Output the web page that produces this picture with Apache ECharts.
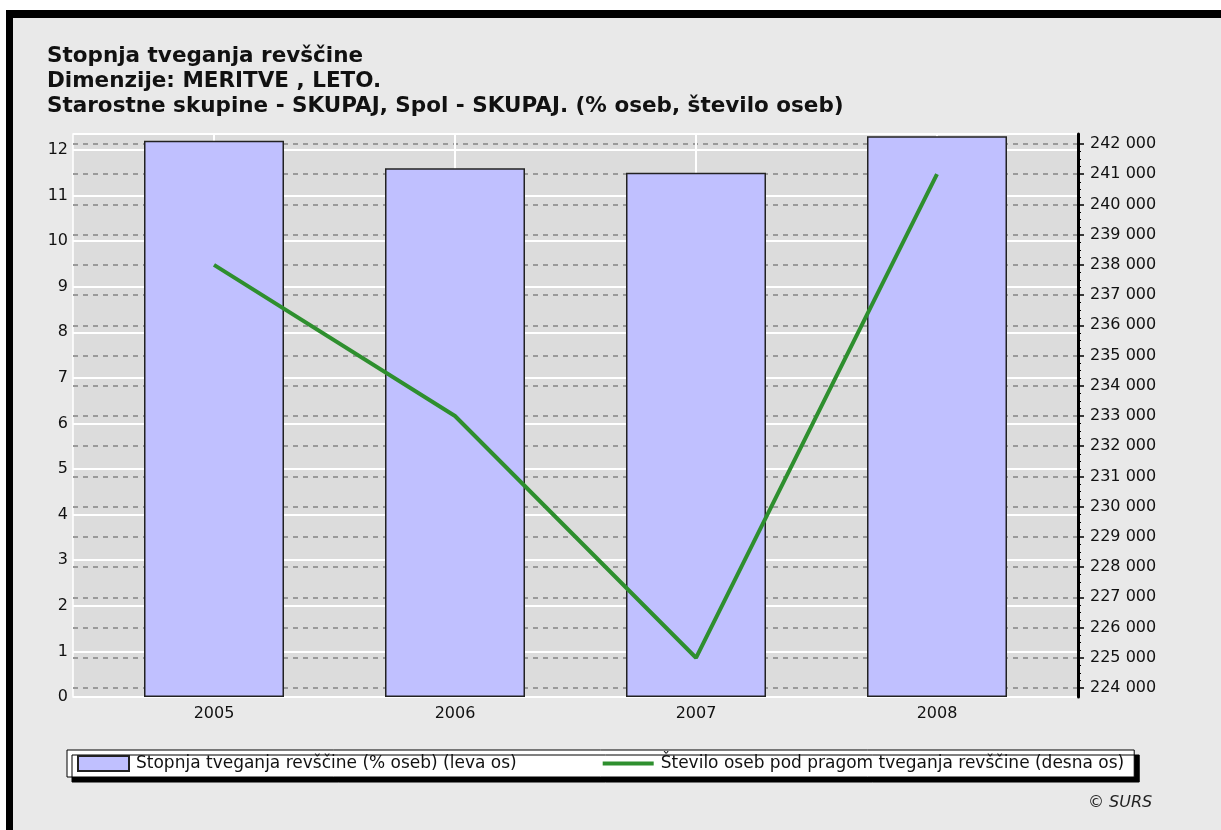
<!DOCTYPE html>
<html>
<head>
<meta charset="utf-8">
<script src="https://cdn.jsdelivr.net/npm/echarts@6/dist/echarts.min.js"></script>
<style>
  html, body { margin: 0; padding: 0; background: #fff; }
  #frame {
    position: absolute; left: 6px; top: 10px; width: 1215px; height: 820px;
    box-sizing: border-box; background: #e9e9e9;
    border-left: 7px solid #000; border-top: 8px solid #000;
  }
  #chart { position: absolute; left: 0; top: 0; width: 1221px; height: 830px; }
</style>
</head>
<body>
<div id="frame"></div>
<div id="chart"></div>
<script>
// data
var years = ["2005", "2006", "2007", "2008"];
var riskRate = [12.2, 11.6, 11.5, 12.3];              // % oseb (leva os)
var personsBelow = [238000, 233000, 225000, 241000];  // število oseb (desna os)

var leftMin = 0, leftMax = 12.35;
var rightTickMin = 224000, rightTickMax = 242000, rightStep = 1000;
var rightMin = 223702, rightMax = 242331;

var font = "DejaVu Sans";

function fmtThousands(v) {
    return String(v).replace(/\B(?=(\d{3})+(?!\d))/g, " ");
}

var chart = echarts.init(document.getElementById("chart"));
chart.setOption({
    animation: false,
    textStyle: { fontFamily: font },
    title: {
        text: "Stopnja tveganja revščine\nDimenzije: MERITVE , LETO.\nStarostne skupine - SKUPAJ, Spol - SKUPAJ. (% oseb, število oseb)",
        left: 47,
        top: 44,
        padding: 0,
        textStyle: {
            fontFamily: font,
            fontSize: 21.5,
            fontWeight: "bold",
            color: "#111",
            lineHeight: 25
        }
    },
    grid: [
        // plot background + left axis
        { left: 73, right: 143, top: 134, bottom: 133, show: true,
          backgroundColor: "#dcdcdc", borderColor: "#fff", borderWidth: 1.5 },
        // right axis ticks (224 000 .. 242 000)
        { left: 73, right: 143, top: 144, bottom: 142 },
        // series
        { left: 214, right: 284, top: 134, bottom: 133 }
    ],
    xAxis: [
        { gridIndex: 0, type: "value", show: false },
        { gridIndex: 1, type: "value", show: false },
        {
            gridIndex: 2,
            type: "category",
            data: years,
            boundaryGap: false,
            axisLine: { show: false },
            axisTick: { show: false },
            axisLabel: { margin: 9, fontSize: 16, color: "#111", fontFamily: font },
            splitLine: { show: true, lineStyle: { color: "#fff", width: 2 } }
        }
    ],
    yAxis: [
        {
            gridIndex: 0,
            type: "value",
            min: leftMin,
            max: leftMax,
            interval: 1,
            axisLine: { show: false, onZero: false },
            axisTick: { show: false },
            axisLabel: { margin: 5, fontSize: 16, color: "#111", showMaxLabel: false, fontFamily: font },
            splitLine: { lineStyle: { color: "#fff", width: 2 } }
        },
        {
            gridIndex: 0,
            type: "value",
            position: "right",
            axisLine: { show: true, onZero: false, lineStyle: { color: "#000", width: 3 } },
            axisTick: { show: false },
            axisLabel: { show: false },
            splitLine: { show: false }
        },
        {
            gridIndex: 1,
            type: "value",
            position: "right",
            min: rightTickMin,
            max: rightTickMax,
            interval: rightStep,
            axisLine: { show: false, onZero: false },
            axisTick: { show: true, inside: false, length: 6, lineStyle: { color: "#000", width: 1.5 } },
            minorTick: { show: true, splitNumber: 4, length: 3, lineStyle: { color: "#000", width: 1 } },
            axisLabel: { margin: 12, fontSize: 16, color: "#111", fontFamily: font, formatter: fmtThousands },
            splitLine: { lineStyle: { color: "#9a9a9a", width: 2, type: [5, 5] } }
        },
        { gridIndex: 2, type: "value", min: leftMin, max: leftMax, show: false, splitLine: { show: false } },
        { gridIndex: 2, type: "value", min: rightMin, max: rightMax, show: false, position: "right", splitLine: { show: false } }
    ],
    legend: {
        left: 67,
        top: 750,
        padding: [5, 10, 5, 10],
        itemWidth: 51,
        itemHeight: 15,
        itemGap: 86,
        backgroundColor: "#fff",
        borderColor: "#000",
        borderWidth: 1,
        borderRadius: 0,
        shadowColor: "#000",
        shadowBlur: 0,
        shadowOffsetX: 5,
        shadowOffsetY: 5,
        textStyle: { fontSize: 17, color: "#111", fontFamily: font, padding: [0, 0, 0, 2] },
        data: [
            { name: "Stopnja tveganja revščine (% oseb) (leva os)", icon: "rect" },
            { name: "Število oseb pod pragom tveganja revščine (desna os)", icon: "path://M0,0 L52,0 L52,4 L0,4 Z" }
        ]
    },
    graphic: [
        {
            type: "text",
            left: 1088,
            top: 795,
            style: { text: "© SURS", fontSize: 16, fontStyle: "italic", fontFamily: font, fill: "#222" }
        }
    ],
    series: [
        {
            name: "Stopnja tveganja revščine (% oseb) (leva os)",
            type: "bar",
            xAxisIndex: 2,
            yAxisIndex: 3,
            barWidth: 140,
            clip: false,
            data: riskRate,
            itemStyle: { color: "#c0c0ff", borderColor: "#222", borderWidth: 1.5 }
        },
        {
            name: "Število oseb pod pragom tveganja revščine (desna os)",
            type: "line",
            xAxisIndex: 2,
            yAxisIndex: 4,
            symbol: "none",
            data: personsBelow,
            lineStyle: { color: "#2e8f2e", width: 4 },
            itemStyle: { color: "#2e8f2e" }
        }
    ]
});
</script>
</body>
</html>
